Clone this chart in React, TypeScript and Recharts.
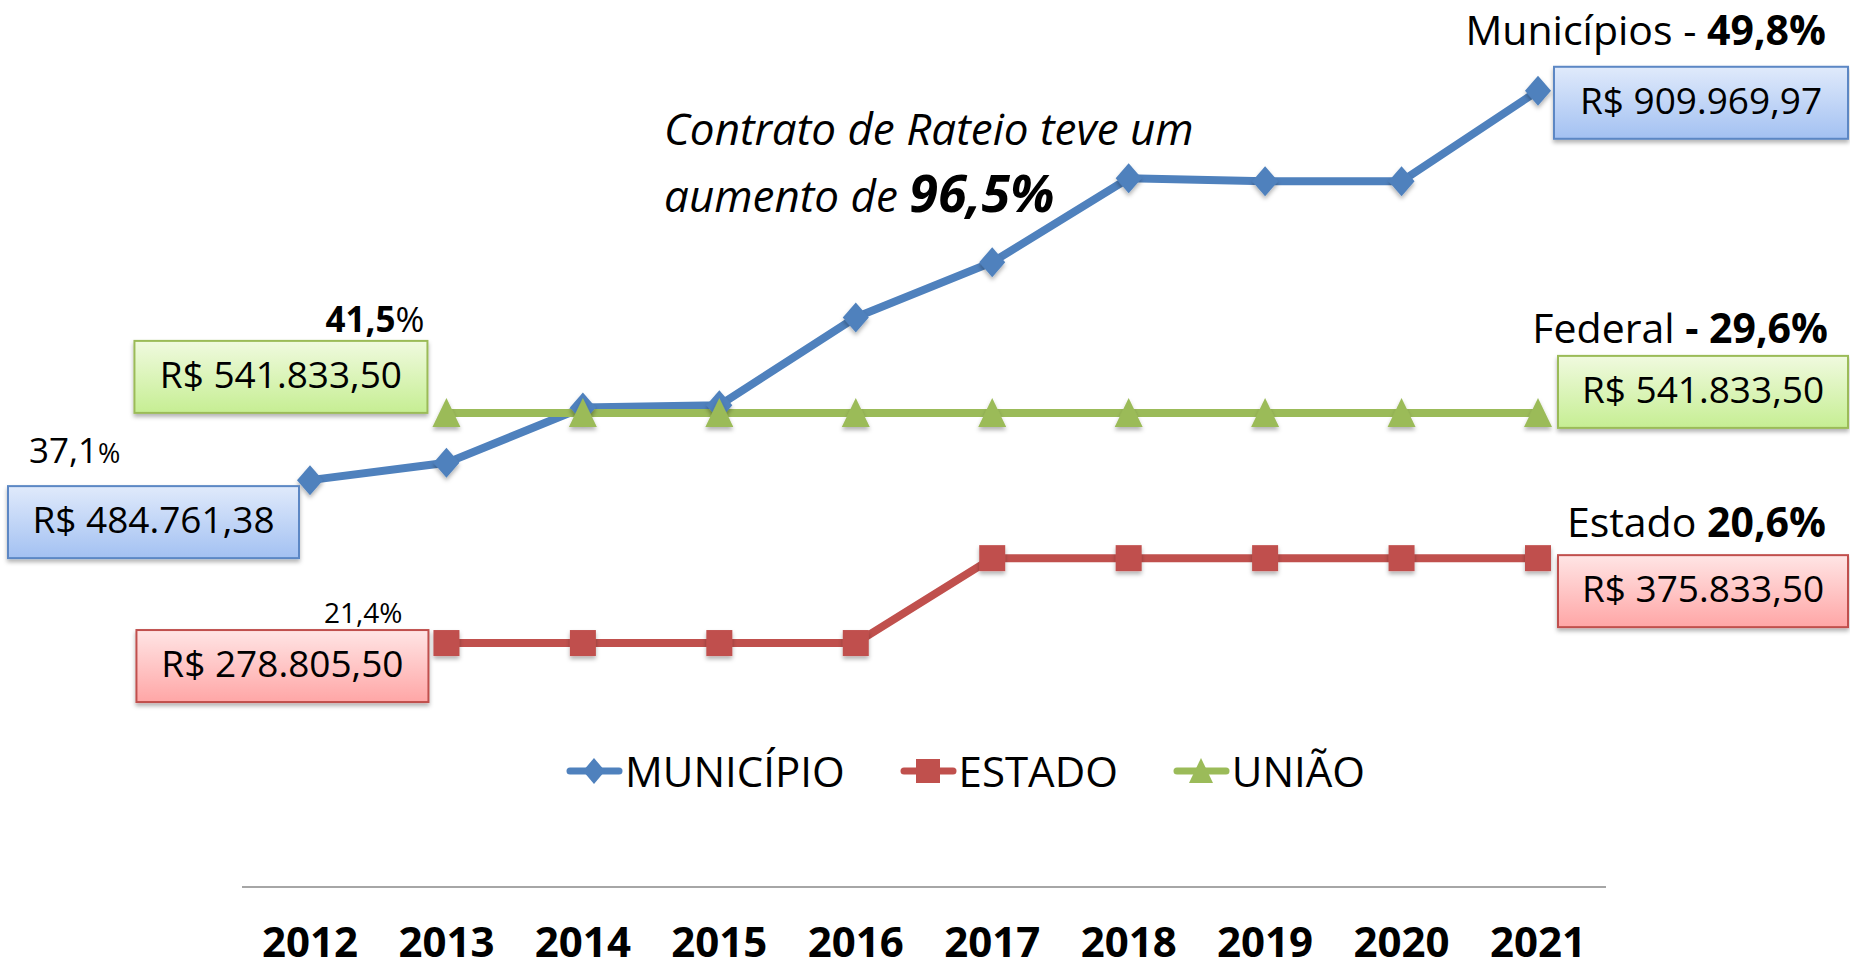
import { LineChart, Line, XAxis, YAxis, Legend, LabelList } from "recharts"

// values
const years = ["2012", "2013", "2014", "2015", "2016", "2017", "2018", "2019", "2020", "2021"]
const municipio = [465000, 484761.38, 548000, 550500, 651000, 714000, 810000, 806500, 806500, 909969.97]
const estado = [null, 278805.5, 278805.5, 278805.5, 278805.5, 375833.5, 375833.5, 375833.5, 375833.5, 375833.5]
const uniao = [null, 541833.5, 541833.5, 541833.5, 541833.5, 541833.5, 541833.5, 541833.5, 541833.5, 541833.5]

const data = years.map((year, i) => ({
  year,
  municipio: municipio[i],
  estado: estado[i],
  uniao: uniao[i],
}))

const BLUE = "#4F81BD"
const RED = "#C0504D"
const GREEN = "#9BBB59"
const FONT = '"Open Sans", "Noto Sans", sans-serif'
const legendOrder = ["municipio", "estado", "uniao"]

function ValueBox({ x, y, w, grad, stroke, text }: any) {
  return (
    <g>
      <rect x={x} y={y} width={w} height={72} fill={`url(#${grad})`} stroke={stroke} strokeWidth={2} filter="url(#shadow)" />
      <text x={x + w / 2} y={y + 47} textAnchor="middle" fontFamily={FONT} fontSize={37} fill="#000">
        {text}
      </text>
    </g>
  )
}

const pos = (props: any) => {
  const x = props.x ?? props.viewBox?.x
  const y = props.y ?? props.viewBox?.y
  return { x, y }
}

const municipioLabel = (props: any) => {
  const { index } = props
  const { x, y } = pos(props)
  if (index === 0) {
    return (
      <g key="ml0">
        <ValueBox x={x - 302} y={y + 6} w={291} grad="gBlue" stroke="#5b87c4" text="R$ 484.761,38" />
        <text x={x - 281} y={y - 17} fontFamily={FONT} fontSize={35} fill="#000">
          37,1<tspan fontSize={27}>%</tspan>
        </text>
      </g>
    )
  }
  if (index === 9) {
    return (
      <g key="ml9">
        <ValueBox x={x + 16} y={y - 24} w={1848 - (x + 16)} grad="gBlue" stroke="#5b87c4" text="R$ 909.969,97" />
        <text x={x + 288} y={y - 46} textAnchor="end" fontFamily={FONT} fontSize={41} fill="#000">
          Municípios - <tspan fontWeight={700}>49,8%</tspan>
        </text>
      </g>
    )
  }
  return null
}

const uniaoLabel = (props: any) => {
  const { index } = props
  const { x, y } = pos(props)
  if (index === 1) {
    return (
      <g key="ul1">
        <ValueBox x={x - 312} y={y - 72} w={293} grad="gGreen" stroke={GREEN} text="R$ 541.833,50" />
        <text x={x - 22} y={y - 81} textAnchor="end" fontFamily={FONT} fontSize={35} fill="#000">
          <tspan fontWeight={700}>41,5</tspan>%
        </text>
      </g>
    )
  }
  if (index === 9) {
    return (
      <g key="ul9">
        <ValueBox x={x + 20} y={y - 57} w={1848 - (x + 20)} grad="gGreen" stroke={GREEN} text="R$ 541.833,50" />
        <text x={x + 290} y={y - 70} textAnchor="end" fontFamily={FONT} fontSize={41} fill="#000">
          Federal<tspan fontWeight={700}> - 29,6%</tspan>
        </text>
      </g>
    )
  }
  return null
}

const estadoLabel = (props: any) => {
  const { index } = props
  const { x, y } = pos(props)
  if (index === 1) {
    return (
      <g key="el1">
        <ValueBox x={x - 310} y={y - 13} w={292} grad="gRed" stroke={RED} text="R$ 278.805,50" />
        <text x={x - 44} y={y - 20} textAnchor="end" fontFamily={FONT} fontSize={28} fill="#000">
          21,4%
        </text>
      </g>
    )
  }
  if (index === 9) {
    return (
      <g key="el9">
        <ValueBox x={x + 20} y={y - 3} w={1848 - (x + 20)} grad="gRed" stroke={RED} text="R$ 375.833,50" />
        <text x={x + 288} y={y - 21} textAnchor="end" fontFamily={FONT} fontSize={41} fill="#000">
          Estado <tspan fontWeight={700}>20,6%</tspan>
        </text>
      </g>
    )
  }
  return null
}

const diamondDot = (props: any) => {
  const { cx, cy, index, value } = props
  if (value == null || cx == null || cy == null) return <g key={`d${index}`} />
  return (
    <path
      key={`d${index}`}
      d={`M${cx},${cy - 15}L${cx + 13},${cy}L${cx},${cy + 15}L${cx - 13},${cy}Z`}
      fill={BLUE}
      filter="url(#shadow)"
    />
  )
}

const squareDot = (props: any) => {
  const { cx, cy, index, value } = props
  if (value == null || cx == null || cy == null) return <g key={`s${index}`} />
  return <rect key={`s${index}`} x={cx - 13} y={cy - 13} width={26} height={26} fill={RED} filter="url(#shadow)" />
}

const triangleDot = (props: any) => {
  const { cx, cy, index, value } = props
  if (value == null || cx == null || cy == null) return <g key={`t${index}`} />
  return (
    <path
      key={`t${index}`}
      d={`M${cx},${cy - 15}L${cx + 14},${cy + 14}L${cx - 14},${cy + 14}Z`}
      fill={GREEN}
      filter="url(#shadow)"
    />
  )
}

const YearTick = ({ x, y, payload }: any) => (
  <text x={x} y={y} dy={68} textAnchor="middle" fontFamily={FONT} fontWeight={700} fontSize={42} fill="#000">
    {payload.value}
  </text>
)

const legendShape = (key: string, color: string) => {
  if (key === "municipio") return <path d="M28,2L39,15L28,28L17,15Z" fill={color} />
  if (key === "estado") return <rect x={16} y={3} width={24} height={24} fill={color} />
  return <path d="M28,2L40,27L16,27Z" fill={color} />
}

const LegendContent = ({ payload }: any) => {
  const items = [...(payload || [])].sort(
    (a: any, b: any) => legendOrder.indexOf(a.dataKey) - legendOrder.indexOf(b.dataKey)
  )
  return (
    <div style={{ display: "flex", alignItems: "center", paddingLeft: 566, fontFamily: FONT, fontSize: 42, color: "#000" }}>
      {items.map((entry: any) => (
        <div key={entry.dataKey} style={{ display: "flex", alignItems: "center", marginRight: 55 }}>
          <svg width={57} height={30}>
            <line x1={4} y1={15} x2={53} y2={15} stroke={entry.color} strokeWidth={7} strokeLinecap="round" />
            {legendShape(entry.dataKey, entry.color)}
          </svg>
          <span style={{ marginLeft: 2 }}>{entry.value}</span>
        </div>
      ))}
    </div>
  )
}

export default function App() {
  return (
    <div style={{ position: "absolute", left: 0, top: 0, width: 1850, height: 969, background: "#fff" }}>
      <LineChart width={1850} height={969} data={data} margin={{ top: 12, right: 244, bottom: 0, left: 242 }}>
        <XAxis
          dataKey="year"
          tick={<YearTick />}
          tickLine={false}
          tickSize={0}
          axisLine={{ stroke: "#a6a6a6", strokeWidth: 2 }}
          interval={0}
          height={82}
          padding={{ left: 68, right: 68 }}
        />
        <YAxis hide domain={[0, 1000000]} />
        <Legend
          layout="horizontal"
          verticalAlign="middle"
          align="center"
          content={<LegendContent />}
          wrapperStyle={{ top: 742, left: 0, width: 1850 }}
        />
        <Line
          name="MUNICÍPIO"
          dataKey="municipio"
          stroke={BLUE}
          strokeWidth={8}
          dot={diamondDot}
          activeDot={false}
          isAnimationActive={false}
        >
          <LabelList dataKey="municipio" content={municipioLabel} />
        </Line>
        <Line
          name="ESTADO"
          dataKey="estado"
          stroke={RED}
          strokeWidth={8}
          dot={squareDot}
          activeDot={false}
          isAnimationActive={false}
        >
          <LabelList dataKey="estado" content={estadoLabel} />
        </Line>
        <Line
          name="UNIÃO"
          dataKey="uniao"
          stroke={GREEN}
          strokeWidth={8}
          dot={triangleDot}
          activeDot={false}
          isAnimationActive={false}
        >
          <LabelList dataKey="uniao" content={uniaoLabel} />
        </Line>
      </LineChart>
      <svg width={1850} height={969} style={{ position: "absolute", left: 0, top: 0, pointerEvents: "none" }}>
        <defs>
          <filter id="shadow" x="-30%" y="-30%" width="160%" height="180%">
            <feDropShadow dx="0" dy="3" stdDeviation="2" floodColor="#000" floodOpacity="0.3" />
          </filter>
          <linearGradient id="gBlue" x1="0" y1="0" x2="0" y2="1">
            <stop offset="0%" stopColor="#e0eafb" />
            <stop offset="100%" stopColor="#a3c1f2" />
          </linearGradient>
          <linearGradient id="gGreen" x1="0" y1="0" x2="0" y2="1">
            <stop offset="0%" stopColor="#f0fadf" />
            <stop offset="100%" stopColor="#c6ee93" />
          </linearGradient>
          <linearGradient id="gRed" x1="0" y1="0" x2="0" y2="1">
            <stop offset="0%" stopColor="#ffe5e5" />
            <stop offset="100%" stopColor="#ffa6a6" />
          </linearGradient>
        </defs>
        <text x={664} y={145} fontFamily={FONT} fontStyle="italic" fontSize={44} fill="#000">
          Contrato de Rateio teve um
        </text>
        <text x={664} y={212} fontFamily={FONT} fontStyle="italic" fontSize={44} fill="#000">
          aumento de <tspan fontWeight={700} fontSize={52}>96,5%</tspan>
        </text>
      </svg>
    </div>
  )
}
